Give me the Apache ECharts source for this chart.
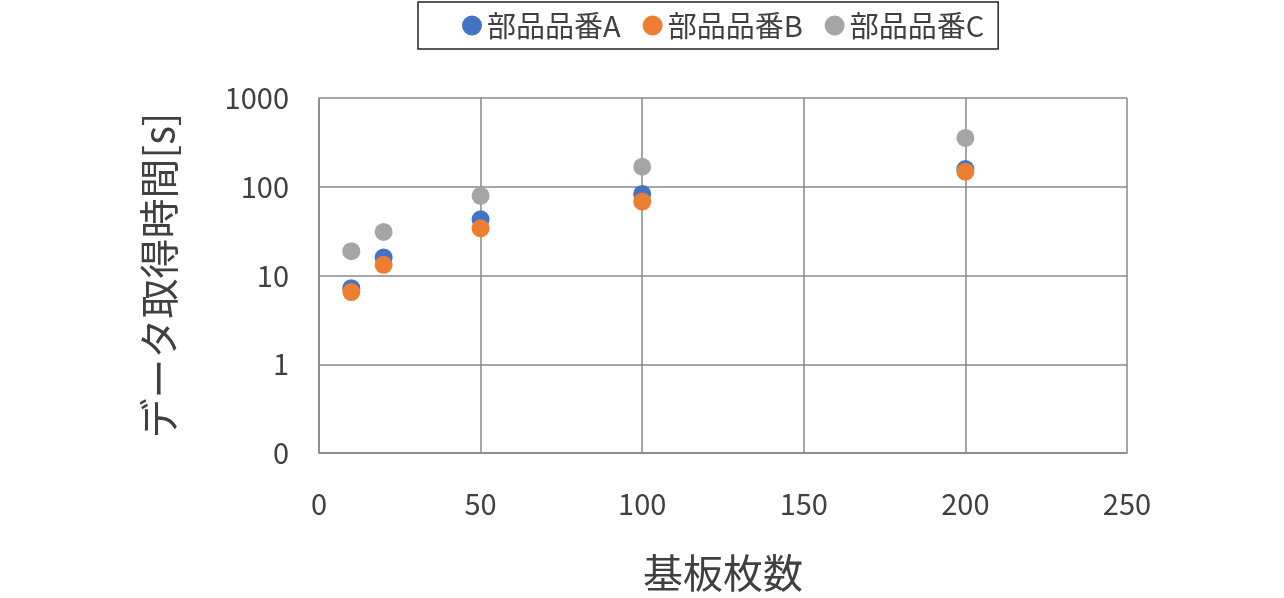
<!DOCTYPE html>
<html><head><meta charset="utf-8">
<script src="https://cdn.jsdelivr.net/npm/echarts@6/dist/echarts.min.js"></script>
<style>html,body{margin:0;background:#fff}#c{width:1284px;height:598px}</style>
</head><body><div id="c"></div>
<script>
const xValues = [10, 20, 50, 100, 200];
const seriesNames = ['部品品番A', '部品品番B', '部品品番C'];
const seriesA = [7.2, 16, 43, 83, 158];
const seriesB = [6.5, 13.2, 34, 68, 148];
const seriesC = [18.8, 31, 79, 168, 355];
const colors = ['#4472C4', '#ED7D31', '#A5A5A5'];
const font = '"Noto Sans CJK JP", "Noto Sans", sans-serif';
const allData = [seriesA, seriesB, seriesC];
const chart = echarts.init(document.getElementById('c'));
chart.setOption({
  animation: false,
  textStyle: {fontFamily: font},
  legend: {
    top: 2, left: 418, width: 706, height: 54, padding: [9, 14, 9, 44],
    borderColor: '#222', borderWidth: 1.5, itemGap: 22,
    icon: 'circle', itemWidth: 20, itemHeight: 20,
    textStyle: {fontSize: 29, color: '#404040', fontFamily: font},
    data: seriesNames
  },
  grid: {left: 319, right: 157, top: 98, bottom: 137},
  xAxis: {
    type: 'value', min: 0, max: 250, interval: 50,
    name: '基板枚数', nameLocation: 'middle', nameGap: 100,
    nameTextStyle: {fontSize: 40, color: '#404040'},
    axisLine: {lineStyle: {color: '#888', width: 1.5}},
    axisTick: {show: false},
    axisLabel: {fontSize: 29, color: '#404040', margin: 36},
    splitLine: {show: true, lineStyle: {color: '#888', width: 1.5}}
  },
  yAxis: {
    type: 'log', logBase: 10, min: 0.1, max: 1000,
    name: 'データ取得時間[s]', nameLocation: 'middle', nameGap: 140,
    nameTextStyle: {fontSize: 40, color: '#404040'},
    axisLine: {show: true, lineStyle: {color: '#888', width: 1.5}},
    axisTick: {show: false},
    axisLabel: {fontSize: 29, color: '#404040', margin: 30,
      formatter: v => String(Math.round(v))},
    splitLine: {show: true, lineStyle: {color: '#888', width: 1.5}}
  },
  series: seriesNames.map((n, i) => ({
    name: n, type: 'scatter', symbolSize: 18,
    itemStyle: {color: colors[i], opacity: 1},
    data: xValues.map((x, j) => [x, allData[i][j]])
  }))
});
</script></body></html>
